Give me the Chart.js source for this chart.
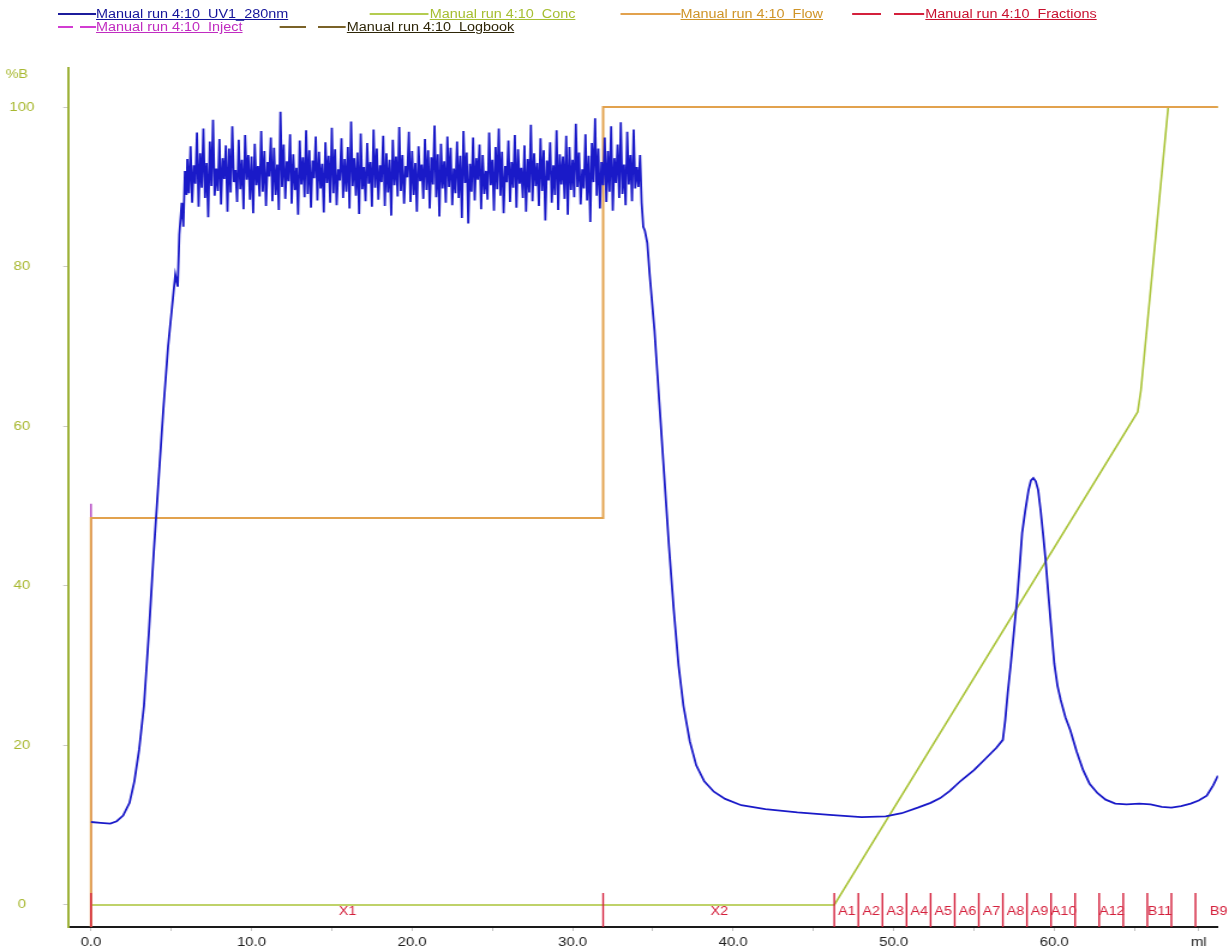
<!DOCTYPE html>
<html>
<head>
<meta charset="utf-8">
<script src="https://cdn.jsdelivr.net/npm/chart.js@4.4.1/dist/chart.umd.min.js"></script>
<style>
  html, body { margin: 0; padding: 0; background: #fff; overflow: hidden; }
  /* the reference looks horizontally stretched, so draw at 1024 wide and stretch */
  #wrap { position: absolute; left: 0; top: 0; width: 1024px; height: 949px; transform: scaleX(1.2002); transform-origin: 0 0; }
  #chart { position: absolute; left: 0; top: 0; }
  .lg { position: absolute; height: 13px; font: 12px "Liberation Sans", Arial, sans-serif; line-height: 13px; white-space: pre; }
  .lg i { position: absolute; height: 2px; }
  .lg span { position: absolute; top: 0; text-decoration: underline; text-underline-offset: 1px; }
</style>
</head>
<body>
<div id="wrap">
  <canvas id="chart" width="1024" height="949"></canvas>
  <div id="legend"></div>
</div>
<script>
// UV1_280nm: rise, dense noisy plateau (sampled every 0.1 ml), then the tail
const uvRiseMl  = [0, 0.6, 1.2, 1.6, 2.0, 2.4, 2.7, 3.0, 3.3, 3.6, 3.9, 4.2, 4.5, 4.8, 5.05, 5.25, 5.4, 5.5, 5.65, 5.75, 5.85, 5.95];
const uvRiseAbs = [10.4, 10.3, 10.2, 10.5, 11.2, 12.8, 15.5, 19.5, 25, 34, 44, 53, 62, 70, 75, 79, 77.5, 84, 88, 85, 92, 89];

const plateauStartMl = 6.0;
const plateauStepMl = 0.1;
const uvPlateau = [
  93.5, 89.2, 95.1, 88.0, 92.7, 90.4, 96.8, 87.5, 94.2, 89.9, 97.3, 88.6, 93.0, 86.2, 95.7, 90.1, 98.4, 88.9, 92.3, 89.5,
  96.0, 87.8, 93.6, 91.0, 95.2, 86.9, 94.8, 89.3, 97.6, 90.6, 92.1, 88.1, 95.9, 89.7, 93.4, 87.2, 96.5, 90.9, 94.0, 88.4,
  93.8, 86.7, 95.4, 90.2, 92.6, 88.8, 97.0, 89.4, 94.5, 87.6, 93.1, 91.3, 96.2, 88.2, 94.9, 89.0, 92.8, 87.1, 99.4, 90.0,
  95.3, 88.5, 93.2, 90.7, 96.6, 87.9, 94.1, 89.6, 92.4, 86.5, 95.8, 90.3, 93.7, 88.7, 97.1, 89.1, 94.6, 87.4, 93.3, 91.1,
  96.3, 88.3, 94.4, 89.8, 92.9, 86.8, 95.6, 90.5, 93.9, 88.0, 97.4, 89.2, 94.7, 87.7, 92.2, 90.8, 96.1, 88.6, 93.5, 89.4,
  95.0, 87.3, 98.2, 90.1, 93.6, 88.9, 94.3, 86.6, 96.7, 89.7, 92.5, 88.2, 95.5, 90.4, 93.1, 87.5, 97.2, 89.9, 94.8, 88.4,
  92.7, 90.6, 96.4, 87.6, 94.2, 89.3, 93.4, 86.4, 95.9, 90.2, 93.8, 88.8, 97.5, 89.5, 94.0, 87.9, 92.6, 91.2, 96.9, 88.1,
  94.5, 89.0, 93.0, 86.9, 95.1, 90.7, 92.8, 88.5, 96.0, 89.6, 94.6, 87.3, 93.7, 90.3, 97.7, 88.7, 94.1, 86.3, 95.4, 89.8,
  93.2, 88.0, 96.3, 90.0, 94.9, 87.7, 92.3, 89.2, 95.7, 88.6, 93.9, 86.1, 97.0, 90.5, 94.3, 85.4, 92.9, 89.4, 96.2, 88.3,
  93.6, 90.9, 95.3, 87.2, 94.0, 89.1, 92.0, 88.4, 96.8, 90.2, 93.4, 87.0, 95.0, 89.7, 97.3, 88.9, 94.4, 86.7, 92.6, 90.6,
  95.8, 88.1, 93.1, 89.9, 96.5, 87.4, 94.7, 90.4, 92.4, 88.6, 95.2, 86.9, 93.5, 89.3, 97.8, 88.2, 94.2, 90.1, 93.0, 87.6,
  96.1, 89.5, 94.6, 85.8, 93.3, 90.8, 95.6, 88.0, 92.7, 89.0, 97.1, 87.1, 94.1, 90.3, 93.8, 88.5, 96.4, 86.5, 95.0, 89.6,
  93.4, 88.7, 97.9, 90.0, 94.3, 87.8, 92.2, 89.8, 96.6, 88.3, 93.9, 85.6, 95.5, 90.6, 98.6, 88.9, 94.8, 87.3, 93.1, 90.2,
  96.2, 88.1, 94.5, 89.4, 97.6, 87.0, 93.6, 90.5, 95.3, 88.6, 98.1, 89.1, 92.8, 87.7, 96.9, 90.3, 94.0, 88.2, 97.2, 89.8,
  92.5
];

const uvTailMl  = [34.1, 34.2, 34.3, 34.4, 34.5, 34.65, 34.8, 35.1, 35.4, 35.7, 36.0, 36.3, 36.6, 36.9, 37.3, 37.7, 38.2, 38.8, 39.5, 40.5, 42.0, 44.0, 46.0, 48.0, 49.5, 50.5, 51.5, 52.3, 52.9,
  53.5, 54.2, 55.0, 55.7, 56.4, 56.8, 56.95, 57.1, 57.3, 57.5, 57.7, 57.85, 58.0, 58.2, 58.4, 58.55, 58.7, 58.85, 59.0, 59.15, 59.3, 59.45, 59.6, 59.8, 60.0, 60.2, 60.4, 60.7, 61.0, 61.4, 61.8, 62.2, 62.7, 63.2, 63.8, 64.5, 65.3, 66.0, 66.7, 67.3, 67.9, 68.5, 69.0, 69.5, 69.9, 70.2];
const uvTailAbs = [90, 94, 88, 85, 84.5, 83, 79, 72, 63, 54, 45, 37, 30, 25, 20.5, 17.5, 15.5, 14.2, 13.3, 12.5, 12.0, 11.6, 11.3, 11.0, 11.1, 11.5, 12.2, 12.8, 13.4,
  14.3, 15.6, 16.9, 18.3, 19.7, 20.7, 23.2, 26.5, 30.3, 34.5, 38.6, 42.5, 46.6, 49.5, 52.0, 53.2, 53.5, 53.1, 52.0, 49.5, 46.6, 43.5, 39.8, 35.0, 30.3, 27.5, 25.7, 23.5, 21.9, 19.2, 16.9, 15.2, 14.0, 13.2, 12.7, 12.6, 12.7, 12.6, 12.3, 12.2, 12.4, 12.7, 13.1, 13.7, 15.0, 16.2];

// Conc (%B)
const concMl  = [0, 46.3, 65.2, 65.4, 67.1, 70.2];
const concPct = [0, 0, 61.8, 64.5, 100, 100];

// Flow (drawn on the same axis)
const flowMl  = [0, 0, 31.9, 31.9, 70.2];
const flowPct = [-3, 48.5, 48.5, 100, 100];

// Inject mark
const injectMl  = [0, 0];
const injectPct = [-3, 50.3];

// Fractions
const fractionMl = [0, 31.9, 46.3, 47.8, 49.3, 50.8, 52.3, 53.8, 55.3, 56.8, 58.3, 59.8, 61.3, 62.8, 64.3, 65.8, 67.3, 68.8];
const fractionLabels = ['X1', 'X2', 'A1', 'A2', 'A3', 'A4', 'A5', 'A6', 'A7', 'A8', 'A9', 'A10', '', 'A12', '', 'B11', '', 'B9'];
const fractionEndMl = 71.6;
const fractionMarkTop = 1.5;
const fractionLabelPct = -0.9;

// axes
const xTickValues = [0, 5, 10, 15, 20, 25, 30, 35, 40, 45, 50, 55, 60, 65, 69];
const xTickLabels = ['0.0', '', '10.0', '', '20.0', '', '30.0', '', '40.0', '', '50.0', '', '60.0', '', 'ml'];
const yTickValues = [0, 20, 40, 60, 80, 100];
const yTickLabels = ['0', '20', '40', '60', '80', '100'];
const yUnit = '%B';

const legendNames = ['Manual run 4:10  UV1_280nm', 'Manual run 4:10  Conc', 'Manual run 4:10  Flow', 'Manual run 4:10  Fractions',
  'Manual run 4:10  Inject', 'Manual run 4:10  Logbook'];

const C = {
  uv: '#1a1ac8', conc: '#aac43a', flow: '#e2a24e', frac: '#d4203c', inject: '#b040c0', logbook: '#7a6228',
  yAxis: '#9eb23a', yText: '#a8b830', xText: '#1e1e1e'
};
const legendLineColors = ['#1c1c9c', '#b4cc50', C.flow, C.frac, '#d23cd2', C.logbook];
const legendTextColors = ['#14149a', '#a6be30', '#cf9427', '#c8102e', '#c02cc0', '#2e2608'];
const legendLayout = [
  { row: 0, x0: 48, x1: 80, tx: 80, dash: false },
  { row: 0, x0: 308, x1: 357, tx: 358, dash: false },
  { row: 0, x0: 517, x1: 567, tx: 567, dash: false },
  { row: 0, x0: 710, x1: 770, tx: 771, dash: true },
  { row: 1, x0: 48, x1: 80, tx: 80, dash: true },
  { row: 1, x0: 233, x1: 288, tx: 289, dash: true }
];

// build legend
const legendEl = document.getElementById('legend');
legendNames.forEach((name, i) => {
  const l = legendLayout[i];
  const top = 8 + l.row * 13;
  const div = document.createElement('div');
  div.className = 'lg';
  div.style.left = l.x0 + 'px';
  div.style.top = top + 'px';
  const line = document.createElement('i');
  line.style.left = '0px';
  line.style.top = '5px';
  line.style.width = (l.x1 - l.x0) + 'px';
  const c = legendLineColors[i];
  line.style.background = l.dash
    ? `linear-gradient(to right, ${c} 0 40%, transparent 40% 58%, ${c} 58% 100%)`
    : c;
  const txt = document.createElement('span');
  txt.style.left = (l.tx - l.x0) + 'px';
  txt.style.color = legendTextColors[i];
  txt.textContent = name;
  div.appendChild(line);
  div.appendChild(txt);
  legendEl.appendChild(div);
});

// datasets
const uvPoints = [];
uvRiseMl.forEach((v, i) => uvPoints.push({ x: v, y: uvRiseAbs[i] }));
uvPlateau.forEach((v, i) => uvPoints.push({ x: plateauStartMl + i * plateauStepMl, y: v }));
uvTailMl.forEach((v, i) => uvPoints.push({ x: v, y: uvTailAbs[i] }));

const toPts = (xs, ys) => xs.map((v, i) => ({ x: v, y: ys[i] }));

const fracPoints = [];
fractionMl.forEach(v => {
  fracPoints.push({ x: v, y: -3 }, { x: v, y: fractionMarkTop }, { x: v, y: null });
});

const overlay = {
  id: 'overlay',
  afterDatasetsDraw(chart) {
    const { ctx, scales: { x, y } } = chart;
    ctx.save();
    ctx.fillStyle = C.frac;
    ctx.font = '12px "Liberation Sans", Arial, sans-serif';
    ctx.textAlign = 'center';
    ctx.textBaseline = 'middle';
    const ly = y.getPixelForValue(fractionLabelPct);
    fractionMl.forEach((v, i) => {
      const lab = fractionLabels[i];
      if (!lab) return;
      const end = i + 1 < fractionMl.length ? fractionMl[i + 1] : fractionEndMl;
      ctx.fillText(lab, (x.getPixelForValue(v) + x.getPixelForValue(end)) / 2 + 0.5, ly);
    });
    ctx.fillStyle = C.yText;
    ctx.fillText(yUnit, 14, y.getPixelForValue(104));
    ctx.restore();
  }
};

new Chart(document.getElementById('chart'), {
  type: 'line',
  data: {
    datasets: [
      { label: 'UV1_280nm', data: uvPoints, borderColor: C.uv, borderWidth: 1.8, order: 1 },
      { label: 'Fractions', data: fracPoints, borderColor: C.frac, borderWidth: 1.4, spanGaps: false, order: 2 },
      { label: 'Flow', data: toPts(flowMl, flowPct), borderColor: C.flow, borderWidth: 2, order: 3 },
      { label: 'Inject', data: toPts(injectMl, injectPct), borderColor: C.inject, borderWidth: 1.4, order: 4 },
      { label: 'Conc', data: toPts(concMl, concPct), borderColor: C.conc, borderWidth: 1.6, order: 5 }
    ]
  },
  options: {
    responsive: false,
    animation: false,
    events: [],
    elements: { point: { radius: 0 }, line: { tension: 0 } },
    layout: { padding: { top: 68, right: 9.2, bottom: 0, left: 0 } },
    plugins: { legend: { display: false }, tooltip: { enabled: false } },
    scales: {
      x: {
        type: 'linear',
        min: -1.43,
        max: 70.2,
        afterBuildTicks: s => { s.ticks = xTickValues.map(v => ({ value: v })); },
        afterFit: s => { s.height = 22; },
        border: { color: '#1a1a1a', width: 2 },
        grid: { drawOnChartArea: false, drawTicks: true, tickLength: 4, color: '#c4c4c4' },
        ticks: {
          autoSkip: false, maxRotation: 0, padding: 4, color: C.xText,
          font: { family: '"Liberation Sans", Arial, sans-serif', size: 12.5 },
          callback: (v, i) => xTickLabels[i]
        }
      },
      y: {
        min: -2.76,
        max: 104.9,
        afterBuildTicks: s => { s.ticks = yTickValues.map(v => ({ value: v })); },
        // fixed width; drop the label overhang padding so the plot reaches the axis line
        afterFit: s => { s.width = 56.7; s.paddingTop = 0; s.paddingBottom = 0; },
        border: { color: C.yAxis, width: 2 },
        grid: { drawOnChartArea: false, drawTicks: true, tickLength: 4, color: '#c8c8c8' },
        ticks: {
          autoSkip: false, padding: 24, crossAlign: 'center', color: C.yText,
          font: { family: '"Liberation Sans", Arial, sans-serif', size: 12.5 },
          callback: (v, i) => yTickLabels[i]
        }
      }
    }
  },
  plugins: [overlay]
});
</script>
</body>
</html>
